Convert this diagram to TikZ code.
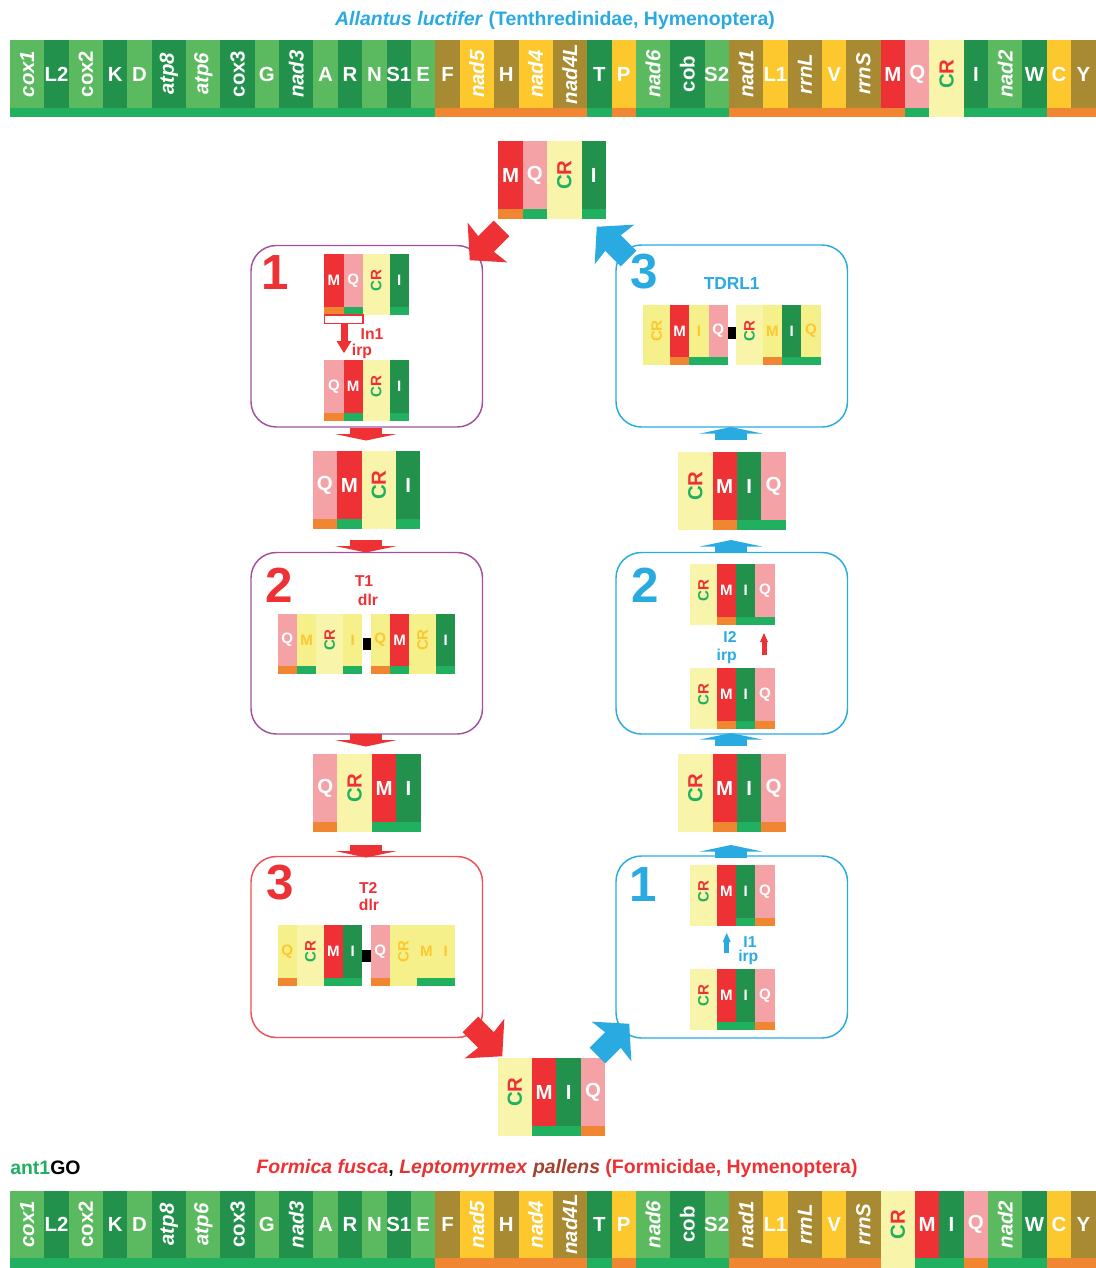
\documentclass[tikz,border=0pt]{standalone}
\usepackage{fontspec}
\setmainfont{Liberation Sans}
\definecolor{lg}{HTML}{5BBA5F}
\definecolor{dg}{HTML}{21914B}
\definecolor{ol}{HTML}{A88A32}
\definecolor{yl}{HTML}{FCC82E}
\definecolor{rd}{HTML}{EE3135}
\definecolor{pk}{HTML}{F5A2A6}
\definecolor{ly}{HTML}{F8F5AA}
\definecolor{ye}{HTML}{F5F08A}
\definecolor{bg}{HTML}{20B060}
\definecolor{bo}{HTML}{F18632}
\definecolor{bl}{HTML}{29ABE2}
\definecolor{pu}{HTML}{A3509F}
\definecolor{gd}{HTML}{FCC82E}
\definecolor{br}{HTML}{A5412E}
\newcommand\bigf{\fontsize{15.3}{17}\selectfont\bfseries}
\newcommand\smf{\fontsize{11.3}{12}\selectfont\bfseries}
\newcommand\labf{\fontsize{11.8}{13}\selectfont\bfseries}
\newcommand\digf{\fontsize{37}{40}\selectfont\bfseries}
\newcommand\titf{\fontsize{14.6}{16}\selectfont\bfseries}
\newcommand\crt{\textcolor{bg}{C}\textcolor{rd}{R}}
\newcount\gcnt
\newcommand\generow[5]{%
  \xdef\curx{#1}%
  \foreach \gw/\gf/\gb/\gs/\gl in {#5}{%
    \pgfmathsetmacro\nx{\curx+\gw}%
    \pgfmathsetmacro\mx{\curx+\gw/2}%
    \pgfmathsetmacro\yb{#2+#3}%
    \pgfmathsetmacro\ye{#2+#3+#4}%
    \pgfmathsetmacro\ym{#2+#3/2}%
    \fill[\gf] (\curx,#2) rectangle (\nx,\ye);
    \path[fill=\gb] (\curx,\yb) rectangle (\nx,\ye);
    \global\advance\gcnt by 1
    \node[\gs] (g\the\gcnt) at (\mx,\ym) {\gl};
    \xdef\curx{\nx}%
  }%
}
\newcommand\darr[3]{%
  \fill[#3] (#1-16,#2) rectangle (#1+16,#2+6.5);
  \fill[#3] (#1-31,#2+6) -- (#1+31,#2+6) -- (#1,#2+12.5) -- cycle;}
\newcommand\uarr[3]{%
  \fill[#3] (#1-31,#2+6.5) -- (#1,#2) -- (#1+31,#2+6.5) -- cycle;
  \fill[#3] (#1-16,#2+6) rectangle (#1+16,#2+12.5);}
\newcommand\bigarr[4]{%
  \fill[#4, shift={(#1,#2)}, rotate=#3] (0,-11) -- (22,-11) -- (20,-28) -- (45,0) -- (20,28) -- (22,11) -- (0,11) -- cycle;}
\tikzset{
  tw/.style={font=\bigf, text=white, inner sep=0pt},
  twi/.style={font=\bigf\itshape, text=white, rotate=90, inner sep=0pt},
  twu/.style={font=\bigf, text=white, rotate=90, inner sep=0pt},
  tcr/.style={font=\bigf, rotate=90, inner sep=0pt},
  sw/.style={font=\smf, text=white, inner sep=0pt},
  sg/.style={font=\smf, text=gd, inner sep=0pt},
  scr/.style={font=\smf, rotate=90, inner sep=0pt},
  sgr/.style={font=\smf, text=gd, rotate=90, inner sep=0pt},
  lab/.style={font=\labf, inner sep=0pt},
  dig/.style={font=\digf, inner sep=0pt},
  frame/.style={line width=1.1pt, rounded corners=19pt},
}
\begin{document}
\begin{tikzpicture}[x=0.75pt, y=-0.75pt]
\fill[white] (0,0) rectangle (1096,1268);
\useasboundingbox (0,0) rectangle (1096,1268);
% titles
\node[font=\titf, text=bl, inner sep=0pt] (title) at (555,20) {\textit{Allantus luctifer} (Tenthredinidae, Hymenoptera)};
\node[font=\titf, anchor=west, inner sep=0pt] (ant) at (10,1168) {\textcolor{bg}{ant1}GO};
\node[font=\titf, inner sep=0pt] (title2) at (557,1168) {\textcolor{rd}{\textit{Formica fusca}}, \textcolor{rd!85!br}{\textit{Leptomyrmex}} \textcolor{br}{\textit{pallens}} \textcolor{rd}{(Formicidae, Hymenoptera)}};
% top strip
\generow{10}{40}{68}{9}{34.3/lg/bg/twi/cox1, 24.4/dg/bg/tw/L2, 34.3/lg/bg/twu/cox2, 24.4/dg/bg/tw/K, 24.4/lg/bg/tw/D, 34.3/dg/bg/twi/atp8, 34.3/lg/bg/twi/atp6, 34.3/dg/bg/twu/cox3, 24.4/lg/bg/tw/G, 34.3/dg/bg/twi/nad3, 24.4/lg/bg/tw/A, 24.4/dg/bg/tw/R, 24.4/lg/bg/tw/N, 24.4/dg/bg/tw/S1, 24.4/lg/bg/tw/E, 24.4/ol/bo/tw/F, 34.3/yl/bo/twi/nad5, 24.4/ol/bo/tw/H, 34.3/yl/bo/twi/nad4, 34.3/ol/bo/twi/nad4L, 24.4/dg/bg/tw/T, 24.4/yl/bo/tw/P, 34.3/lg/bg/twi/nad6, 34.3/dg/bg/twu/cob, 24.4/lg/bg/tw/S2, 34.3/ol/bo/twi/nad1, 24.4/yl/bo/tw/L1, 34.3/ol/bo/twi/rrnL, 24.4/yl/bo/tw/V, 34.3/ol/bo/twi/rrnS, 24.4/rd/bo/tw/M, 24.4/pk/bg/tw/Q, 34.3/ly/none/tcr/\crt, 24.4/dg/bg/tw/I, 34.3/lg/bg/twi/nad2, 24.4/dg/bg/tw/W, 24.4/yl/bo/tw/C, 24.4/ol/bo/tw/Y}
% bottom strip
\generow{10}{1191}{67}{10}{34.3/lg/bg/twi/cox1, 24.4/dg/bg/tw/L2, 34.3/lg/bg/twu/cox2, 24.4/dg/bg/tw/K, 24.4/lg/bg/tw/D, 34.3/dg/bg/twi/atp8, 34.3/lg/bg/twi/atp6, 34.3/dg/bg/twu/cox3, 24.4/lg/bg/tw/G, 34.3/dg/bg/twi/nad3, 24.4/lg/bg/tw/A, 24.4/dg/bg/tw/R, 24.4/lg/bg/tw/N, 24.4/dg/bg/tw/S1, 24.4/lg/bg/tw/E, 24.4/ol/bo/tw/F, 34.3/yl/bo/twi/nad5, 24.4/ol/bo/tw/H, 34.3/yl/bo/twi/nad4, 34.3/ol/bo/twi/nad4L, 24.4/dg/bg/tw/T, 24.4/yl/bo/tw/P, 34.3/lg/bg/twi/nad6, 34.3/dg/bg/twu/cob, 24.4/lg/bg/tw/S2, 34.3/ol/bo/twi/nad1, 24.4/yl/bo/tw/L1, 34.3/ol/bo/twi/rrnL, 24.4/yl/bo/tw/V, 34.3/ol/bo/twi/rrnS, 34.3/ly/none/tcr/\crt, 24.4/rd/bg/tw/M, 24.4/dg/bg/tw/I, 24.4/pk/bo/tw/Q, 34.3/lg/bg/twi/nad2, 24.4/dg/bg/tw/W, 24.4/yl/bo/tw/C, 24.4/ol/bo/tw/Y}
% big blocks
\generow{498.3}{141}{68}{10}{24.4/rd/bo/tw/M, 24.4/pk/bg/tw/Q, 34.5/ly/none/tcr/\crt, 24.4/dg/bg/tw/I}
\generow{312.7}{451}{68}{10}{24.4/pk/bo/tw/Q, 24.4/rd/bg/tw/M, 34.5/ly/none/tcr/\crt, 24.4/dg/bg/tw/I}
\generow{313}{754}{68}{10}{24.4/pk/bo/tw/Q, 34.5/ly/none/tcr/\crt, 24.4/rd/bg/tw/M, 24.4/dg/bg/tw/I}
\generow{678}{452}{68}{10}{34.5/ly/none/tcr/\crt, 24.4/rd/bo/tw/M, 24.4/dg/bg/tw/I, 24.4/pk/bg/tw/Q}
\generow{678}{754}{68}{10}{34.5/ly/none/tcr/\crt, 24.4/rd/bo/tw/M, 24.4/dg/bg/tw/I, 24.4/pk/bo/tw/Q}
\generow{497.5}{1058}{68}{10}{34.5/ly/none/tcr/\crt, 24.4/rd/bg/tw/M, 24.4/dg/bg/tw/I, 24.4/pk/bo/tw/Q}
% boxes
\draw[frame, pu] (251,245.5) rectangle (482.5,427);
\draw[frame, pu] (251,552.5) rectangle (482.5,734);
\draw[frame, rd!85!white] (251,856.5) rectangle (482.5,1037.5);
\draw[frame, bl] (616,245) rectangle (847.5,427);
\draw[frame, bl] (616,552.5) rectangle (847.5,734);
\draw[frame, bl] (616,856) rectangle (847.5,1038);
% digits
\node[dig, text=rd] (d1) at (275,273) {1};
\node[dig, text=rd] (d2) at (279,585) {2};
\node[dig, text=rd] (d3) at (280,883) {3};
\node[dig, text=bl] (e3) at (644,272) {3};
\node[dig, text=bl] (e2) at (645,585) {2};
\node[dig, text=bl] (e1) at (643,885) {1};
% box 1 left
\generow{324.3}{254}{53}{8}{19.3/rd/bo/sw/M, 19.3/pk/bg/sw/Q, 26.7/ly/none/scr/\crt, 19.3/dg/bg/sw/I}
\draw[rd, line width=0.8pt, fill=white] (324.3,315) rectangle (363,323.5);
\fill[rd] (340.5,323.5) rectangle (347.5,341.5);
\fill[rd] (336.5,341) -- (351.5,341) -- (344,353) -- cycle;
\node[lab, text=rd] (in1) at (372,334.5) {In1};
\node[lab, text=rd] (irp1) at (362,351.5) {irp};
\generow{324.3}{360}{53}{8}{19.3/pk/bo/sw/Q, 19.3/rd/bg/sw/M, 26.7/ly/none/scr/\crt, 19.3/dg/bg/sw/I}
% box 2 left
\node[lab, text=rd] (t1) at (364,581) {T1};
\node[lab, text=rd] (dlr1) at (368,599.5) {dlr};
\generow{277.7}{614}{52}{8}{19.3/pk/bo/sw/Q, 19.3/ye/bg/sg/M, 26.7/ly/none/scr/\crt, 19.3/ye/bg/sg/I}
\fill[black] (362.5,638) rectangle (370.7,650);
\generow{370.7}{614}{52}{8}{19.3/ye/bo/sg/Q, 19.3/rd/bg/sw/M, 26.7/ye/none/sgr/CR, 19.3/dg/bg/sw/I}
% box 3 left
\node[lab, text=rd] (t2) at (368.3,888.3) {T2};
\node[lab, text=rd] (dlr2) at (369,905) {dlr};
\generow{277.7}{925}{53}{8}{19.3/ye/bo/sg/Q, 26.7/ly/none/scr/\crt, 19.3/rd/bg/sw/M, 19.3/dg/bg/sw/I}
\fill[black] (362.3,950) rectangle (370.7,961.7);
\generow{370.7}{925}{53}{8}{19.3/pk/bo/sw/Q, 26.7/ye/none/sgr/CR, 19.3/ye/bg/sg/M, 19.3/ye/bg/sg/I}
% box 3 right
\node[lab, text=bl, font=\fontsize{13}{14}\selectfont\bfseries] (tdrl) at (731.7,283.3) {TDRL1};
\generow{643.3}{305}{52}{8}{26.7/ye/none/sgr/CR, 19.3/rd/bo/sw/M, 19.3/ye/bg/sg/I, 19.3/pk/bg/sw/Q}
\fill[black] (727.9,327.3) rectangle (736,339.3);
\generow{736}{305}{52}{8}{26.7/ly/none/scr/\crt, 19.3/ye/bo/sg/M, 19.3/dg/bg/sw/I, 19.3/ye/bg/sg/Q}
% box 2 right
\generow{690}{564}{53}{8}{26.7/ly/none/scr/\crt, 19.3/rd/bo/sw/M, 19.3/dg/bg/sw/I, 19.3/pk/bg/sw/Q}
\node[lab, text=bl] (i2) at (730,636.7) {I2};
\node[lab, text=bl] (irp2) at (726.7,656) {irp};
\fill[rd] (761.5,641) rectangle (766.5,655);
\fill[rd] (760,642) -- (768,642) -- (764,633) -- cycle;
\generow{690}{668}{53}{8}{26.7/ly/none/scr/\crt, 19.3/rd/bo/sw/M, 19.3/dg/bg/sw/I, 19.3/pk/bo/sw/Q}
% box 1 right
\generow{690}{865}{53}{8}{26.7/ly/none/scr/\crt, 19.3/rd/none/sw/M, 19.3/dg/bg/sw/I, 19.3/pk/bo/sw/Q}
\fill[bl] (724.2,941) rectangle (729.2,953.3);
\fill[bl] (722.7,942) -- (730.7,942) -- (726.7,933) -- cycle;
\node[lab, text=bl] (i1) at (750,941.7) {I1};
\node[lab, text=bl] (irp3) at (748.3,957.6) {irp};
\generow{690}{969}{53}{8}{26.7/ly/none/scr/\crt, 19.3/rd/bg/sw/M, 19.3/dg/bg/sw/I, 19.3/pk/bo/sw/Q}
% small arrows
\darr{366}{428}{rd}
\darr{366}{540}{rd}
\darr{366}{734}{rd}
\darr{366}{845}{rd}
\uarr{731}{427}{bl}
\uarr{731}{540}{bl}
\uarr{731}{733}{bl}
\uarr{731}{845}{bl}
% big arrows
\bigarr{501.6}{228.4}{225}{rd}
\bigarr{628.6}{258.6}{135}{bl}
\bigarr{470.4}{1024.4}{315}{rd}
\bigarr{597.4}{1055.6}{45}{bl}
\end{tikzpicture}
\end{document}
